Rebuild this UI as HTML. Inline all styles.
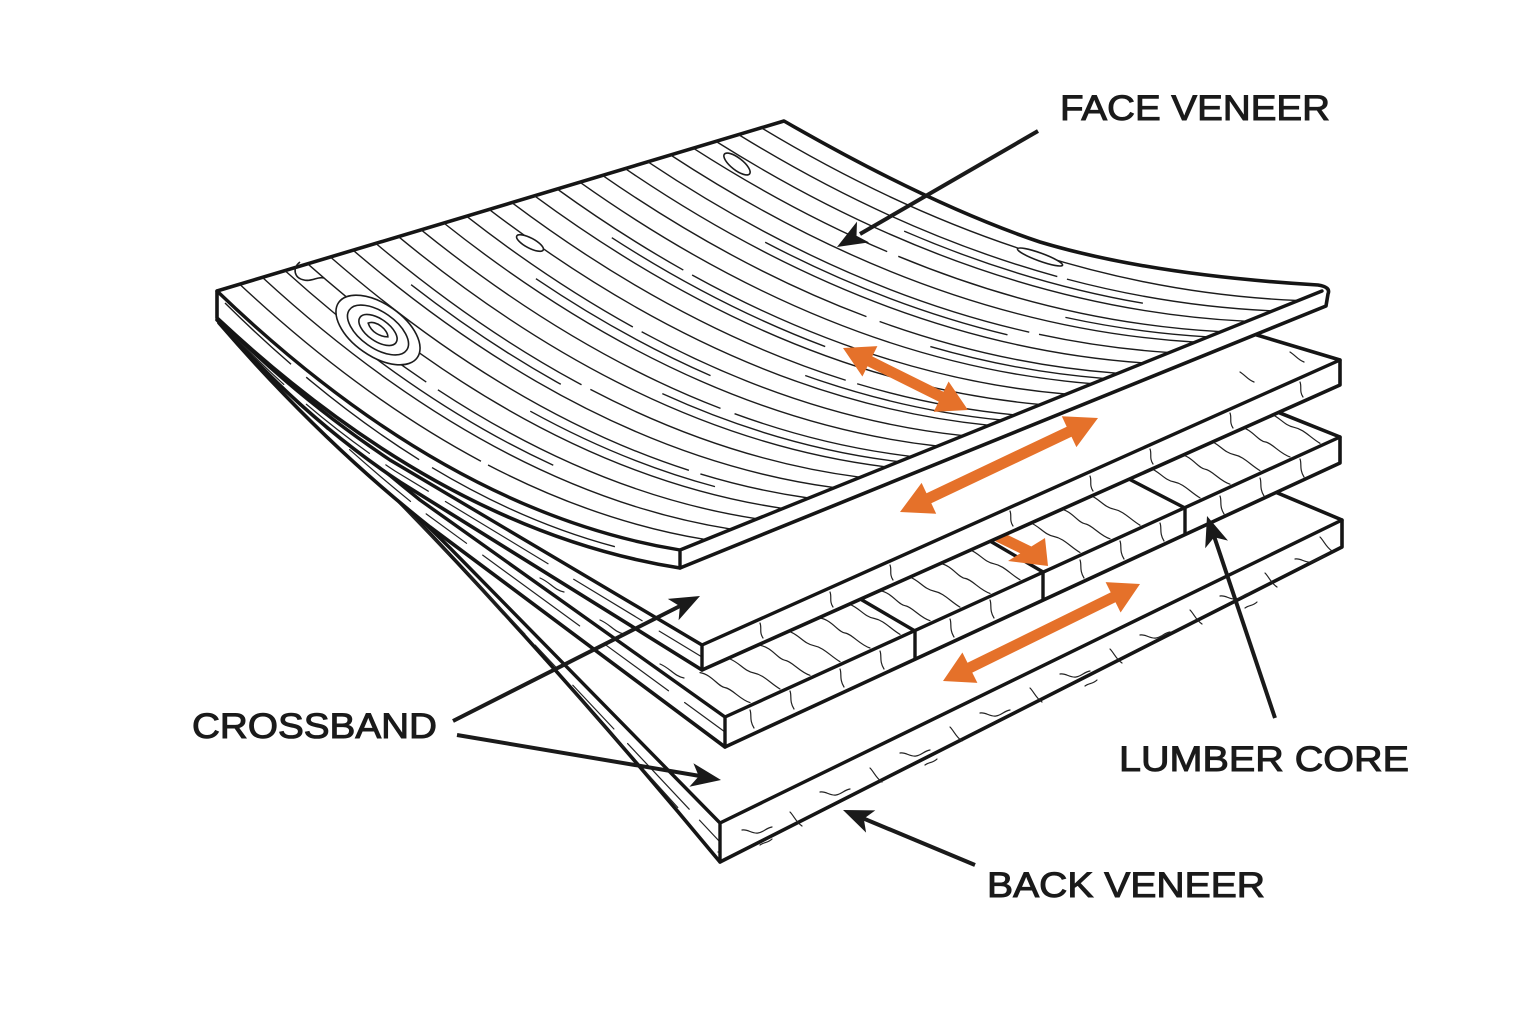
<!DOCTYPE html>
<html><head><meta charset="utf-8">
<style>
html,body{margin:0;padding:0;background:#fff;}
svg{display:block;}
.o{fill:#fff;stroke:#151515;stroke-width:3.6;stroke-linejoin:round;}
.e{fill:none;stroke:#151515;stroke-width:3.4;stroke-linejoin:round;stroke-linecap:round;}
.g{fill:none;stroke:#1c1c1c;stroke-width:1.4;stroke-linecap:butt;}
.t{fill:none;stroke:#222;stroke-width:1.2;stroke-linecap:round;}
.k{fill:#fff;stroke:#1c1c1c;stroke-width:1.6;}
.kn{fill:none;stroke:#1c1c1c;stroke-width:1.6;}
.or{fill:#E5712A;}
.bl{fill:none;stroke:#1a1a1a;stroke-width:4;stroke-linecap:butt;}
.bh{fill:#1a1a1a;}
.lbl{font-family:"Liberation Sans",Arial,sans-serif;font-size:35px;fill:#1a1a1a;stroke:#1a1a1a;stroke-width:1;}
</style></head><body>
<svg width="1536" height="1024" viewBox="0 0 1536 1024" xmlns="http://www.w3.org/2000/svg">
<rect width="1536" height="1024" fill="#fff"/>

<!-- ===== Layer 4 (bottom / back veneer) ===== -->
<path class="o" d="M830,305 L1342,520 L1342,547 L720,862 Q470,560 217,320 Z"/>
<g class="t">
<path d="M742,830 c6,-1 10,4 16,3 s8,-5 14,-6"/><path d="M790,812 c4,4 6,10 12,14"/>
<path d="M820,792 c6,-1 10,4 16,3 s8,-5 14,-6"/><path d="M870,768 c4,4 6,10 12,14"/>
<path d="M900,753 c6,-1 10,4 16,3 s8,-5 14,-6"/><path d="M950,727 c4,4 6,10 12,14"/>
<path d="M980,713 c6,-1 10,4 16,3 s8,-5 14,-6"/><path d="M1030,688 c4,4 6,10 12,14"/>
<path d="M1060,674 c6,-1 10,4 16,3 s8,-5 14,-6"/><path d="M1110,649 c4,4 6,10 12,14"/>
<path d="M1140,635 c6,-1 10,4 16,3 s8,-5 14,-6"/><path d="M1190,610 c4,4 6,10 12,14"/>
<path d="M1220,596 c6,-1 10,4 16,3 s8,-5 14,-6"/><path d="M1265,573 c4,4 6,10 12,14"/>
<path d="M1295,559 c6,-1 10,4 16,3 s8,-5 14,-6"/><path d="M1320,537 c4,4 6,10 12,14"/>
<path d="M760,845 c4,-3 8,-2 12,-6"/><path d="M925,765 c4,-3 8,-2 12,-6"/><path d="M1085,686 c4,-3 8,-2 12,-6"/><path d="M1245,608 c4,-3 8,-2 12,-6"/>
<path d="M720,842 L460,565 Q340,440 220,321" stroke-dasharray="30 15 90 20 60 25"/>
<path d="M718,852 L465,572 Q345,446 219,322" stroke-dasharray="0 60 50 30 80 40"/>
</g>
<polygon class="or" points="943,681 977.4,682.9 972.3,672.6 1115.5,602.2 1120.6,612.5 1140,584 1105.6,582.1 1110.7,592.4 967.5,662.8 962.4,652.5"/>
<path class="e" d="M1342,520 L720,823 L720,862 M720,823 L450,548 Q330,430 222,322"/>

<!-- ===== Layer 3 (lumber core) ===== -->
<path class="o" d="M820,229 L1340,437 L1340,463 L725,747 L430,527 Q320,440 219,323 Z"/>
<g class="t">
<path d="M700,672.6 c12,2 18,14 25,15 s15,12 25,15"/>
<path d="M730,659 c10,4 14,12 24,14 s16,10 26,16"/>
<path d="M760,645.3 c12,2 18,14 25,15 s15,12 25,15"/>
<path d="M790,631.7 c10,4 14,12 24,14 s16,10 26,16"/>
<path d="M820,618 c12,2 18,14 25,15 s15,12 25,15"/>
<path d="M850,604.4 c10,4 14,12 24,14 s16,10 26,16"/>
<path d="M880,590.7 c12,2 18,14 25,15 s15,12 25,15"/>
<path d="M910,577.1 c10,4 14,12 24,14 s16,10 26,16"/>
<path d="M940,563.4 c12,2 18,14 25,15 s15,12 25,15"/>
<path d="M970,549.8 c10,4 14,12 24,14 s16,10 26,16"/>
<path d="M1030,522.5 c10,4 14,12 24,14 s16,10 26,16"/>
<path d="M1060,508.8 c12,2 18,14 25,15 s15,12 25,15"/>
<path d="M1090,495.2 c10,4 14,12 24,14 s16,10 26,16"/>
<path d="M1150,467.9 c10,4 14,12 24,14 s16,10 26,16"/>
<path d="M1180,454.2 c12,2 18,14 25,15 s15,12 25,15"/>
<path d="M1210,440.6 c10,4 14,12 24,14 s16,10 26,16"/>
<path d="M1240,426.9 c12,2 18,14 25,15 s15,12 25,15"/>
<path d="M1270,413.3 c10,4 14,12 24,14 s16,10 26,16"/>
<path d="M750,710 c2,5 -1,10 4,18"/><path d="M790,691 c2,5 -1,10 4,18"/><path d="M840,669 c2,5 -1,10 4,18"/>
<path d="M880,651 c2,5 -1,10 4,18"/><path d="M950,619 c2,5 -1,10 4,18"/><path d="M990,600 c2,5 -1,10 4,18"/>
<path d="M1080,560 c2,5 -1,10 4,18"/><path d="M1120,541 c2,5 -1,10 4,18"/><path d="M1160,523 c2,5 -1,10 4,18"/>
<path d="M1220,496 c2,5 -1,10 4,18"/><path d="M1260,478 c2,5 -1,10 4,18"/><path d="M1300,459 c2,5 -1,10 4,18"/>
<path d="M725,732 L425,513 Q320,430 220,322" stroke-dasharray="50 20 80 30 120 20"/>
<path d="M600,620 c10,4 14,12 24,14"/><path d="M540,578 c10,4 14,12 24,14"/><path d="M660,664 c10,4 14,12 24,14"/>
</g>
<path class="e" d="M862,600 L915,631 L915,659 M990,541 L1043,572 L1043,599 M1127,478 L1185,508 L1185,534"/>
<line x1="985" y1="530" x2="1030" y2="552" stroke="#E5712A" stroke-width="11"/>
<polygon class="or" points="1048,566 1045,538 1008,561"/>
<path class="e" d="M1340,437 L725,717 L725,747 M725,717 L420,500 Q320,420 221,322"/>

<!-- ===== Layer 2 (crossband) ===== -->
<path class="o" d="M800,198 L1340,360 L1340,385 L702,670 L400,482 Q300,415 220,322 Z"/>
<g class="t">
<path d="M760,623 c2,5 -1,9 3,15"/><path d="M830,592 c2,5 -1,9 3,15"/><path d="M890,565 c2,5 -1,9 3,15"/>
<path d="M1010,511 c2,5 -1,9 3,15"/><path d="M1090,476 c2,5 -1,9 3,15"/><path d="M1150,449 c2,5 -1,9 3,15"/>
<path d="M1230,413 c2,5 -1,9 3,15"/><path d="M1300,382 c2,5 -1,9 3,15"/>
<path d="M1290,352 c5,3 8,8 14,10"/><path d="M1240,372 c5,3 8,8 14,10"/>
<path d="M702,657 L395,471 Q300,408 221,322" stroke-dasharray="50 20 80 30 120 20"/>
</g>
<polygon class="or" points="900,512 936.2,513.7 931.3,503.3 1071.5,436.7 1076.4,447.1 1098,418 1061.8,416.3 1066.7,426.7 926.5,493.3 921.6,482.9"/>
<path class="e" d="M1340,360 L702,645 L702,670 M702,645 L390,460 Q300,400 222,322"/>

<!-- ===== Layer 1 (face veneer) ===== -->
<path class="o" d="M217,291 L784,121 Q930,205 1040,242 Q1150,275 1318,285 Q1331,287 1328,294 L1326,306 L680,568 Q445,531 217,318 Z"/>
<g class="g">
<path d="M239.7,284.2 Q471.2,500.8 705.7,539.6" stroke-dasharray="300 8 400"/>
<path d="M262.4,277.4 Q495.5,491.6 731.4,529.2"/>
<path d="M285,270.6 Q519.7,482.4 757,518.8" stroke-dasharray="180 14 500"/>
<path d="M307.7,263.8 Q544,473.2 782.7,508.4"/>
<path d="M330.4,257 Q568.2,464 808.4,498" stroke-dasharray="420 12 300"/>
<path d="M353.1,250.2 Q592.4,454.8 834.1,487.6"/>
<path d="M375.8,243.4 Q616.7,445.6 859.8,477.2" stroke-dasharray="250 10 500"/>
<path d="M398.4,236.6 Q640.9,436.4 885.4,466.8"/>
<path d="M421.1,229.8 Q665.2,427.2 911.1,456.4" stroke-dasharray="350 15 400"/>
<path d="M443.8,223 Q689.4,418 936.8,446"/>
<path d="M466.5,216.2 Q713.6,408.8 962.5,435.6" stroke-dasharray="200 10 500"/>
<path d="M489.2,209.4 Q737.9,399.6 988.2,425.2"/>
<path d="M511.8,202.6 Q762.1,390.4 1013.8,414.8" stroke-dasharray="380 12 300"/>
<path d="M534.5,195.8 Q786.4,381.2 1039.5,404.4"/>
<path d="M557.2,189 Q810.6,372 1065.2,394" stroke-dasharray="150 10 600"/>
<path d="M579.9,182.2 Q834.8,362.8 1090.9,383.6"/>
<path d="M602.6,175.4 Q859.1,353.6 1116.6,373.2" stroke-dasharray="300 14 400"/>
<path d="M625.2,168.6 Q883.3,344.4 1142.2,362.8"/>
<path d="M647.9,161.8 Q907.6,335.2 1167.9,352.4" stroke-dasharray="420 10 300"/>
<path d="M670.6,155 Q931.8,326 1193.6,342"/>
<path d="M693.3,148.2 Q956,316.8 1219.3,331.6" stroke-dasharray="220 12 500"/>
<path d="M716,141.4 Q980.3,307.6 1245,321.2"/>
<path d="M738.6,134.6 Q1004.5,298.4 1270.6,310.8" stroke-dasharray="350 10 400"/>
<path d="M761.3,127.8 Q1028.8,289.2 1296.3,300.4"/>
<path d="M273.7,274 Q507.6,487 744.2,524" stroke-dasharray="0 120 220 2000"/>
<path d="M319.05,260.4 Q556.1,468.6 795.55,503.2" stroke-dasharray="0 260 200 2000"/>
<path d="M364.45,246.8 Q604.55,450.2 846.95,482.4" stroke-dasharray="0 60 180 2000"/>
<path d="M409.75,233.2 Q653.05,431.8 898.25,461.6" stroke-dasharray="0 300 250 2000"/>
<path d="M455.15,219.6 Q701.5,413.4 949.65,440.8" stroke-dasharray="0 100 200 2000"/>
<path d="M500.5,206 Q750,395 1001,420" stroke-dasharray="0 350 220 2000"/>
<path d="M545.85,192.4 Q798.5,376.6 1052.35,399.2" stroke-dasharray="0 80 240 2000"/>
<path d="M591.25,178.8 Q846.95,358.2 1103.75,378.4" stroke-dasharray="0 380 200 2000"/>
<path d="M636.55,165.2 Q895.45,339.8 1155.05,357.6" stroke-dasharray="0 150 260 2000"/>
<path d="M681.95,151.6 Q943.9,321.4 1206.45,336.8" stroke-dasharray="0 420 180 2000"/>
<path d="M727.3,138 Q992.4,303 1257.8,316" stroke-dasharray="0 200 250 2000"/>
<path d="M225,303 Q446,522 672,559" stroke-dasharray="90 20 140 15 200"/>
</g>
<g transform="translate(378,330) rotate(35)">
<ellipse class="k" rx="48" ry="26"/>
<ellipse class="kn" rx="35" ry="18"/>
<ellipse class="kn" rx="22" ry="11"/>
<path class="kn" d="M-12,0 C-8,-7 8,-6 12,0 C6,4 -4,6 -12,0Z"/>
</g>
<path class="kn" d="M300,262 c-8,6 -6,16 4,18 c8,2 14,-4 20,-2"/>
<ellipse class="k" cx="530" cy="243" rx="15" ry="5" transform="rotate(28 530 243)"/>
<ellipse class="k" cx="737" cy="164" rx="16" ry="6" transform="rotate(38 737 164)"/>
<ellipse class="k" cx="1040" cy="257" rx="24" ry="4" transform="rotate(20 1040 257)"/>
<polygon class="or" points="843,348 862.4,376.5 867.5,366.2 938.7,401.6 933.6,411.9 968,410 948.6,381.5 943.5,391.8 872.3,356.4 877.4,346.1"/>
<path class="e" d="M1322,291 L680,550 L680,568 M680,550 Q447,512 217,291"/>

<!-- ===== Black leader arrows ===== -->
<path class="bl" d="M1038,131 L860,234"/>
<polygon class="bh" points="837,247 857,221.6 856.5,235.8 869,242.4"/>
<path class="bl" d="M453,721 L682,605"/>
<polygon class="bh" points="700,596 667.8,598.9 679.9,606.2 678.6,620.3"/>
<path class="bl" d="M457,735 L700,776"/>
<polygon class="bh" points="721,780 693.4,763.2 698.8,776.2 689.4,786.8"/>
<path class="bl" d="M1275,718 L1213,533"/>
<polygon class="bh" points="1207,516 1228,540.6 1214.2,537.3 1205.2,548.2"/>
<path class="bl" d="M975,865 L860,817"/>
<polygon class="bh" points="843,810 875.3,810.4 863.8,818.7 866.1,832.6"/>

<!-- ===== Labels ===== -->
<text class="lbl" x="1060" y="120" textLength="270" lengthAdjust="spacingAndGlyphs">FACE VENEER</text>
<text class="lbl" x="192" y="738" textLength="245" lengthAdjust="spacingAndGlyphs">CROSSBAND</text>
<text class="lbl" x="1119" y="771" textLength="290" lengthAdjust="spacingAndGlyphs">LUMBER CORE</text>
<text class="lbl" x="987" y="897" textLength="278" lengthAdjust="spacingAndGlyphs">BACK VENEER</text>
</svg>
</body></html>
